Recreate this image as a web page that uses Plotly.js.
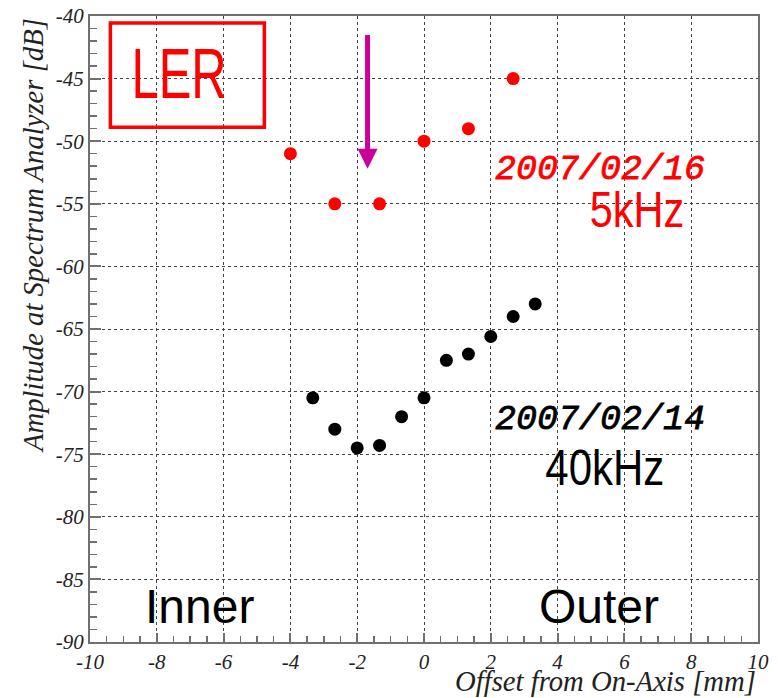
<!DOCTYPE html>
<html>
<head>
<meta charset="utf-8">
<script src="https://cdn.plot.ly/plotly-3.0.1.min.js"></script>
<style>html,body{margin:0;padding:0;background:#fff;}#chart{width:778px;height:698px;}</style>
</head>
<body>
<div id="chart"></div>
<script>
// Red series: 2007/02/16, 5kHz
var offsetRed = [-4.0, -2.67, -1.33, 0.0, 1.33, 2.67];
var ampRed = [-51, -55, -55, -50, -49, -45];
// Black series: 2007/02/14, 40kHz
var offsetBlack = [-3.33, -2.67, -2.0, -1.33, -0.67, 0.0, 0.67, 1.33, 2.0, 2.67, 3.33];
var ampBlack = [-70.5, -73.0, -74.5, -74.3, -72.0, -70.5, -67.5, -67.0, -65.6, -64.0, -63.0];
// Tick labels
var xTickVals = [-10, -8, -6, -4, -2, 0, 2, 4, 6, 8, 10];
var xTickText = ["-10", "-8", "-6", "-4", "-2", "0", "2", "4", "6", "8", "10"];
var yTickVals = [-90, -85, -80, -75, -70, -65, -60, -55, -50, -45, -40];
var yTickText = ["-90", "-85", "-80", "-75", "-70", "-65", "-60", "-55", "-50", "-45", "-40"];

var serifFam = "Liberation Serif";
var sans = "Liberation Sans";
var mono = "Liberation Mono";

var traces = [
  {x: offsetRed, y: ampRed, mode: "markers", type: "scatter",
   marker: {color: "#ff0000", size: 13}, showlegend: false},
  {x: offsetBlack, y: ampBlack, mode: "markers", type: "scatter",
   marker: {color: "#000000", size: 13}, showlegend: false}
];

function axisCommon() {
  return {
    showline: true, linecolor: "#707070", linewidth: 2, mirror: true,
    showgrid: true, gridcolor: "#444", griddash: "dot", gridwidth: 1,
    zeroline: false, ticks: "inside", tickcolor: "#707070", tickwidth: 2,
    tickfont: {family: serifFam, size: 21, color: "#222", style: "italic"},
    tickmode: "array"
  };
}

var layout = {
  width: 778, height: 698,
  margin: {l: 90, r: 20, t: 16, b: 56},
  paper_bgcolor: "#fff", plot_bgcolor: "#fff",
  showlegend: false,
  xaxis: Object.assign(axisCommon(), {
    range: [-10, 10], tickvals: xTickVals, ticktext: xTickText, ticklen: 9,
    minor: {dtick: 0.5, ticks: "inside", ticklen: 6, tickcolor: "#707070", tickwidth: 1.5, showgrid: false}
  }),
  yaxis: Object.assign(axisCommon(), {
    range: [-90, -40], tickvals: yTickVals, ticktext: yTickText, ticklen: 11,
    minor: {dtick: 1, ticks: "inside", ticklen: 7, tickcolor: "#707070", tickwidth: 1.5, showgrid: false}
  }),
  shapes: [
    {type: "rect", xref: "x", yref: "y", x0: -9.39, x1: -4.78, y0: -40.56, y1: -48.89,
     line: {color: "#ff0000", width: 3.5}, fillcolor: "rgba(0,0,0,0)"}
  ],
  annotations: [
    {xref: "paper", yref: "paper", x: 1, y: -0.062, xanchor: "right", yanchor: "middle",
     text: "Offset from On-Axis [mm]", showarrow: false,
     font: {family: serifFam, size: 28.7, color: "#222", style: "italic"}},
    {xref: "paper", yref: "paper", x: -0.086, y: 1, xanchor: "center", yanchor: "top",
     textangle: -90, text: "Amplitude at Spectrum Analyzer [dB]", showarrow: false,
     font: {family: serifFam, size: 28.7, color: "#222", style: "italic"}},
    {x: -7.35, y: -44.66, text: "LER", showarrow: false,
     font: {family: sans, size: 70, color: "#ff0000"}},
    {x: 5.28, y: -52.28, text: "<i>2007/02/16</i>", showarrow: false,
     font: {family: mono, size: 35, color: "#ff0000"}},
    {x: 6.39, y: -55.51, text: "5kHz", showarrow: false,
     font: {family: sans, size: 50, color: "#ff0000"}},
    {x: 5.28, y: -72.29, text: "<i>2007/02/14</i>", showarrow: false,
     font: {family: mono, size: 35, color: "#000"}},
    {x: 5.43, y: -76.1, text: "40kHz", showarrow: false,
     font: {family: sans, size: 50, color: "#000"}},
    {x: -6.72, y: -87.19, text: "Inner", showarrow: false,
     font: {family: sans, size: 48, color: "#000"}},
    {x: 5.25, y: -87.15, text: "Outer", showarrow: false,
     font: {family: sans, size: 48, color: "#000"}},
    {x: -1.69, y: -52.2, ax: -1.69, ay: -41.4, axref: "x", ayref: "y", xref: "x", yref: "y",
     text: "", showarrow: true, arrowhead: 2, arrowsize: 0.8, arrowwidth: 5, arrowcolor: "#cc0099", standoff: 0}
  ]
};

var condense = {"LER": 0.7, "5kHz": 0.83, "40kHz": 0.84};
var thicken = {"2007/02/16": "#ff0000", "2007/02/14": "#000000"};

Plotly.newPlot("chart", traces, layout, {displayModeBar: false, staticPlot: true}).then(function () {
  document.querySelectorAll("#chart text.annotation-text").forEach(function (t) {
    var key = t.textContent;
    var s = condense[key];
    if (s) {
      var b = t.getBBox();
      var cx = b.x + b.width / 2;
      t.setAttribute("transform", "translate(" + cx + ",0) scale(" + s + ",1) translate(" + (-cx) + ",0)");
    }
    if (thicken[key]) {
      t.style.stroke = thicken[key];
      t.style.strokeWidth = "0.8px";
    }
  });
});
</script>
</body>
</html>
